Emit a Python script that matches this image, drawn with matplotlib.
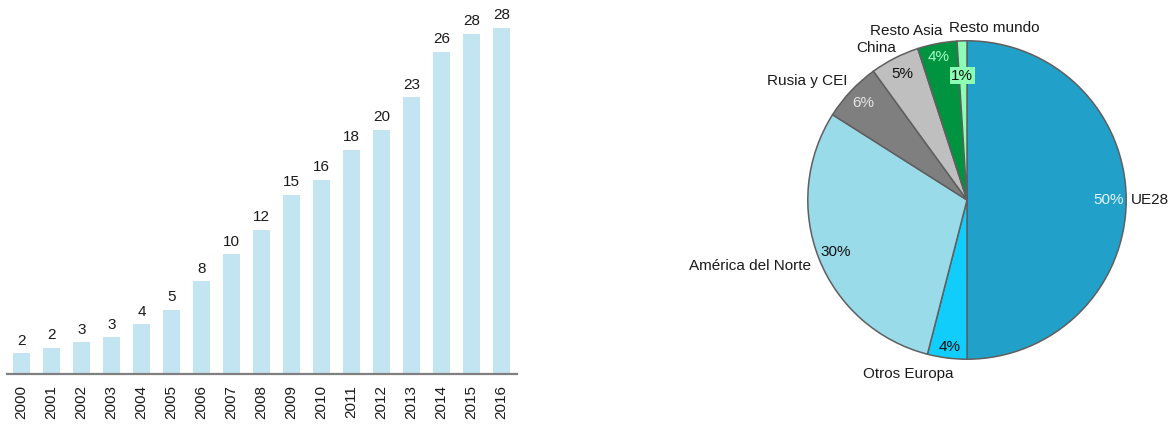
import matplotlib
matplotlib.use('Agg')
import matplotlib.pyplot as plt
import numpy as np

plt.rcParams['font.family'] = ['Liberation Sans', 'DejaVu Sans']

years = [str(y) for y in range(2000, 2017)]
values = [1.7, 2.16, 2.6, 3.0, 4.07, 5.25, 7.6, 9.8, 11.8, 14.7, 15.9, 18.4, 20.0, 22.7, 26.4, 27.9, 28.4]

regions = ['UE28', 'Otros Europa', 'América del Norte', 'Rusia y CEI', 'China', 'Resto Asia', 'Resto mundo']
shares = [50, 4, 30, 6, 5, 4, 1]
pie_colors = ['#21a0c9', '#10cdfc', '#9adbea', '#7f7f7f', '#bfbfbf', '#009340', '#8cffb4']
pct_colors = ['#eaf6ff', '#111111', '#111111', '#e6e6e6', '#111111', '#a8ffc6', '#111111']

W, H = 1173, 424
fig = plt.figure(figsize=(W / 100, H / 100), dpi=100)

# bar chart
ax = fig.add_axes([6.5 / W, 50 / H, 510 / W, 366 / H])
x = np.arange(len(years))
bars = ax.bar(x, values, width=0.56, color='#c2e5f1')
ax.bar_label(bars, labels=[f'{v:.0f}' for v in values], padding=4, fontsize=11, color='#1a1a1a')
ax.set_xlim(-0.5, len(years) - 0.5)
ax.set_ylim(0, 30)
ax.set_xticks(x)
ax.set_xticklabels(years, rotation=90, fontsize=11, color='#1a1a1a')
ax.tick_params(axis='x', length=0, pad=8)
ax.set_yticks([])
for s in ['left', 'right', 'top']:
    ax.spines[s].set_visible(False)
ax.spines['bottom'].set_color('#808080')
ax.spines['bottom'].set_linewidth(1.6)

# pie chart
cx, cy, r = 967, 200, 160
pax = fig.add_axes([(cx - r) / W, (H - cy - r) / H, 2 * r / W, 2 * r / H])
wedges, texts, autotexts = pax.pie(
    shares, labels=regions, colors=pie_colors, startangle=90, counterclock=False,
    autopct='%.0f%%', pctdistance=0.89, labeldistance=1.03,
    wedgeprops=dict(edgecolor='#5f5f5f', linewidth=1.1),
    textprops=dict(fontsize=11, color='#1a1a1a'))
pax.set_xlim(-1.005, 1.005)
pax.set_ylim(-1.005, 1.005)
pax.set_aspect('equal')

for t, c in zip(autotexts, pct_colors):
    t.set_color(c)
autotexts[6].set_bbox(dict(boxstyle='square,pad=0.1', facecolor='#8cffb4', edgecolor='none'))
autotexts[6].set_position((-0.03, 0.78))
autotexts[5].set_position((-0.18, 0.90))
px, py = autotexts[1].get_position()
autotexts[1].set_position((px, py - 0.04))


def nudge(t, dx, dy):
    tx, ty = t.get_position()
    t.set_position((tx + dx, ty + dy))


# nudge crowded labels
nudge(texts[1], 0.044, -0.07)
nudge(texts[2], -0.025, -0.035)
nudge(texts[3], 0.0, 0.04)
nudge(texts[4], 0.02, 0.04)
nudge(texts[5], 0.04, 0.05)
tx, ty = texts[6].get_position()
texts[6].set_position((-0.11, ty + 0.05))
texts[6].set_ha('left')

fig.savefig('out.png', dpi=100, facecolor='white')
